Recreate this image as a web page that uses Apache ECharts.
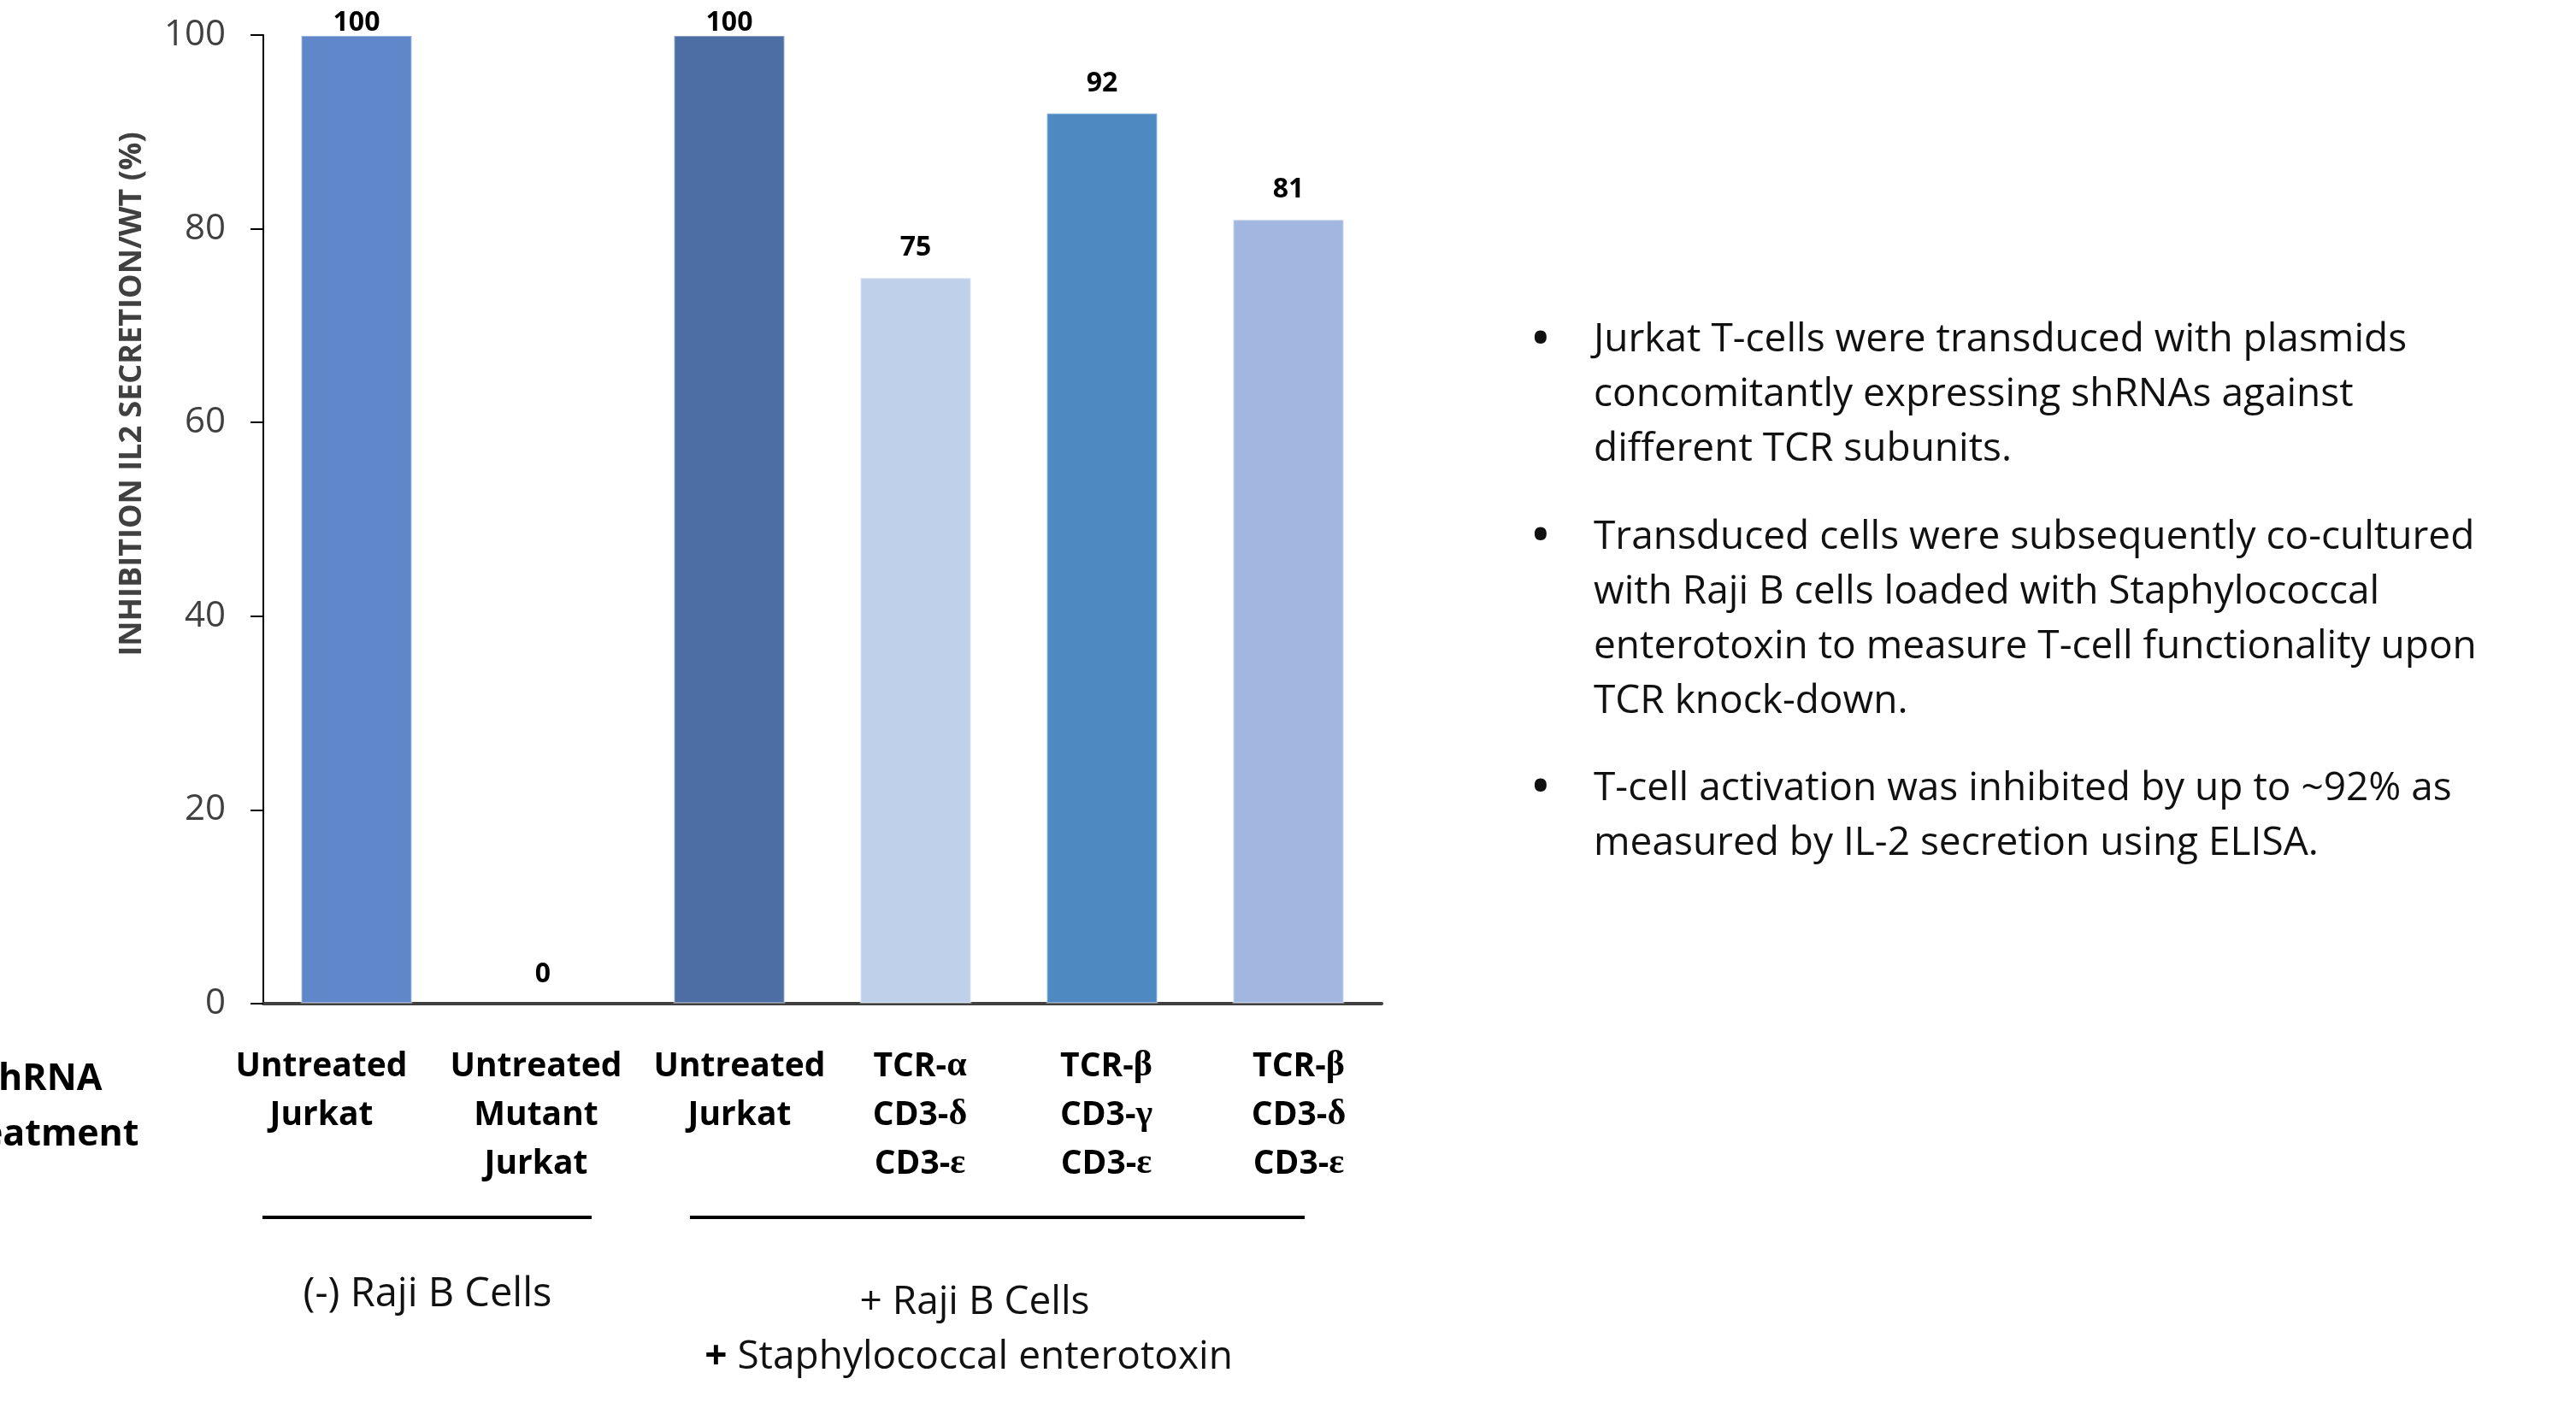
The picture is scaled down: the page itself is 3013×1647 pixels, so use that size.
<!DOCTYPE html>
<html>
<head>
<meta charset="utf-8">
<title>IL-2 secretion after TCR knock-down</title>
<script src="https://cdn.jsdelivr.net/npm/echarts@6/dist/echarts.min.js"></script>
<style>
  html, body { margin: 0; padding: 0; background: #ffffff; }
  #chart { width: 100vw; height: 100vh; }
</style>
</head>
<body>
<div id="chart"></div>
<script>
// Treatment groups along the x axis (one bar each)
const categories = [
  'Untreated\nJurkat',
  'Untreated\nMutant\nJurkat',
  'Untreated\nJurkat',
  'TCR-α\nCD3-δ\nCD3-ε',
  'TCR-β\nCD3-γ\nCD3-ε',
  'TCR-β\nCD3-δ\nCD3-ε'
];

// Inhibition of IL-2 secretion relative to wild type, in percent
const inhibition = [100, 0, 100, 75, 92, 81];

// Fill colour of each bar
const barColors = ['#5F87C9', '#5F87C9', '#4D6DA5', '#BFD0EA', '#4E89C1', '#A1B7E0'];

// Value axis range and step
const yRange = [0, 100];
const yStep = 20;

const yAxisTitle = 'INHIBITION IL2 SECRETION/WT (%)';
const rowTitle = 'shRNA\nTreatment';
const conditionLeft = '(-) Raji B Cells';
const conditionRight = ['+ Raji B Cells', '+ Staphylococcal enterotoxin'];

// Summary bullet points, one array per paragraph (already line-broken)
const noteTransduction = [
  'Jurkat T-cells were transduced with plasmids',
  'concomitantly expressing shRNAs against',
  'different TCR subunits.'
];
const noteCoculture = [
  'Transduced cells were subsequently co-cultured',
  'with Raji B cells loaded with Staphylococcal',
  'enterotoxin to measure T-cell functionality upon',
  'TCR knock-down.'
];
const noteResult = [
  'T-cell activation was inhibited by up to ~92% as',
  'measured by IL-2 secretion using ELISA.'
];

const FONT = "'Open Sans', 'Liberation Sans', sans-serif";
const chart = echarts.init(document.getElementById('chart'));

// Greek letters are drawn in a serif face, like a Symbol font
function greekRich(text) {
  return text.replace(/([\u03B1-\u03C9])/g, '{g|$1}');
}

// Horizontal nudge (px) of each category label's text block; negative = left
const labelNudge = [-41, -8, 12, 5, 5, 12];

const xData = categories.map((c, i) => {
  const n = labelNudge[i];
  return {
    value: c,
    textStyle: { padding: n < 0 ? [0, -2 * n, 0, 0] : [0, 0, 0, 2 * n] }
  };
});

const barData = inhibition.map((v, i) => ({
  value: v,
  itemStyle: { color: barColors[i], borderWidth: v === 0 ? 0 : 2 },
  label: { distance: v >= yRange[1] ? -2 : 18 }
}));

const notes = [noteTransduction, noteCoculture, noteResult];
const noteCenters = [462, 725, 955];
const noteFirstLine = [399, 629, 923];
const noteGraphics = [];
notes.forEach((lines, i) => {
  noteGraphics.push({
    type: 'text', x: 1802, y: noteFirstLine[i],
    style: { text: '•', font: 'bold 50px ' + FONT, fill: '#111', textAlign: 'center', textVerticalAlign: 'middle' }
  });
  noteGraphics.push({
    type: 'text', x: 1864, y: noteCenters[i],
    style: {
      text: lines.join('\n'), font: '46px ' + FONT, fill: '#111',
      lineHeight: 64, textAlign: 'left', textVerticalAlign: 'middle'
    }
  });
});

chart.setOption({
  backgroundColor: '#ffffff',
  animation: false,
  grid: { left: 308, right: 1397, top: 41, bottom: 473, containLabel: false },
  xAxis: {
    type: 'category',
    data: xData,
    axisLine: { show: true, lineStyle: { color: '#404040', width: 4 } },
    axisTick: { show: false },
    axisLabel: {
      interval: 0,
      margin: 45,
      color: '#000000',
      fontFamily: FONT,
      fontWeight: 'bold',
      fontSize: 39,
      lineHeight: 57,
      formatter: (v) => greekRich(v),
      rich: {
        g: { fontFamily: "'Liberation Serif', 'DejaVu Serif', serif", fontWeight: 'bold', fontSize: 42, lineHeight: 57, color: '#000000' }
      }
    }
  },
  yAxis: {
    type: 'value',
    min: yRange[0],
    max: yRange[1],
    interval: yStep,
    axisLine: { show: true, lineStyle: { color: '#000000', width: 2 } },
    axisTick: { show: true, inside: false, length: 15, lineStyle: { color: '#000000', width: 2 } },
    splitLine: { show: false },
    axisLabel: { color: '#404040', fontFamily: FONT, fontSize: 42, margin: 44 }
  },
  series: [{
    type: 'bar',
    data: barData,
    barCategoryGap: '40%',
    itemStyle: { borderColor: 'rgba(255,255,255,0.35)' },
    label: {
      show: true,
      position: 'top',
      color: '#000000',
      fontFamily: FONT,
      fontWeight: 'bold',
      fontSize: 32
    }
  }],
  graphic: [
    {
      type: 'text', x: 155, y: 461, rotation: Math.PI / 2,
      style: { text: yAxisTitle, font: 'bold 36px ' + FONT, fill: '#404040', textAlign: 'center', textVerticalAlign: 'middle' }
    },
    {
      type: 'text', x: 48, y: 1295,
      style: { text: rowTitle, font: 'bold 43px ' + FONT, fill: '#000000', lineHeight: 65, textAlign: 'center', textVerticalAlign: 'middle' }
    },
    { type: 'line', shape: { x1: 307, y1: 1424, x2: 692, y2: 1424 }, style: { stroke: '#000000', lineWidth: 4 } },
    { type: 'line', shape: { x1: 807, y1: 1424, x2: 1526, y2: 1424 }, style: { stroke: '#000000', lineWidth: 4 } },
    {
      type: 'text', x: 500, y: 1515,
      style: { text: conditionLeft, font: '47px ' + FONT, fill: '#111', textAlign: 'center', textVerticalAlign: 'middle' }
    },
    {
      type: 'text', x: 1140, y: 1524,
      style: { text: conditionRight[0], font: '46px ' + FONT, fill: '#111', textAlign: 'center', textVerticalAlign: 'middle' }
    },
    {
      type: 'text', x: 1133, y: 1588,
      style: {
        text: conditionRight[1].replace(/^\+/, '{b|+}'),
        font: '46px ' + FONT, fill: '#111', textAlign: 'center', textVerticalAlign: 'middle',
        rich: { b: { fontFamily: FONT, fontWeight: 'bold', fontSize: 46, fill: '#000' } }
      }
    }
  ].concat(noteGraphics)
});
</script>
</body>
</html>
